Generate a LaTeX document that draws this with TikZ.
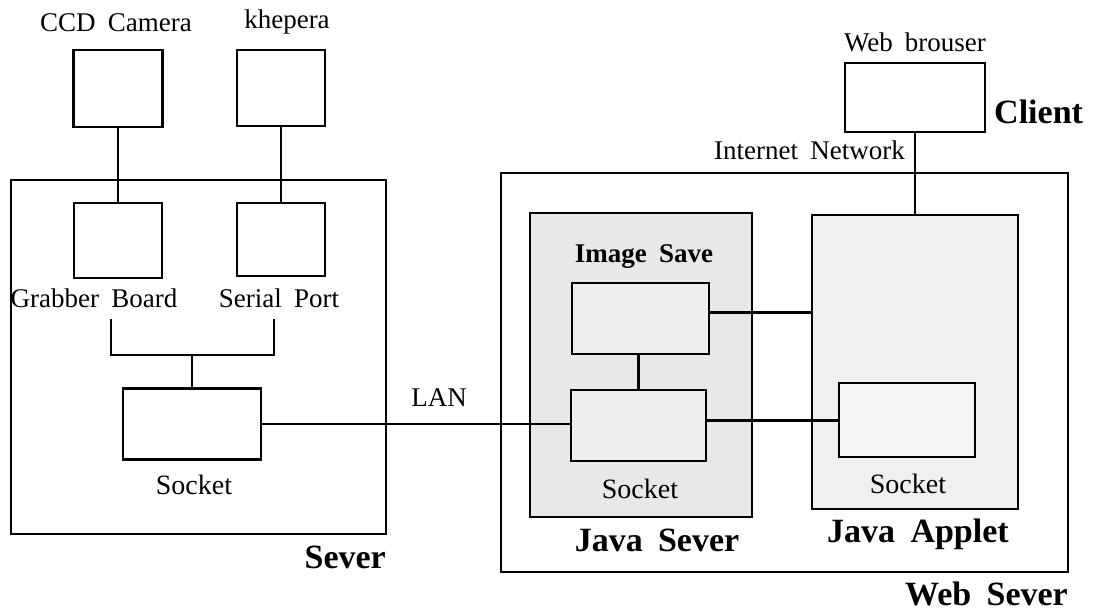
\documentclass[tikz,border=0pt]{standalone}
\usepackage{fontspec}
\setmainfont{Liberation Serif}[WordSpace=1.8]
\begin{document}
\begin{tikzpicture}[x=1pt,y=-1pt,
  box/.style={draw,line width=2.8pt,inner sep=0pt,rectangle},
  bigbox/.style={draw,line width=2.4pt,inner sep=0pt,rectangle},
  wire/.style={line width=2.8pt},
  thinwire/.style={line width=2pt},
  lbl/.style={font=\fontsize{27}{30}\selectfont,inner sep=0pt},
  blbl/.style={font=\fontsize{34}{38}\selectfont\bfseries,inner sep=0pt},
  sock/.style={font=\fontsize{28}{32}\selectfont,inner sep=0pt}
]
\useasboundingbox (0,0) rectangle (1093,612);
% big containers
\node[bigbox,minimum width=375pt,minimum height=354pt] (server) at (198.5,357) {};
\node[bigbox,minimum width=567pt,minimum height=399pt] (websrv) at (784.5,372.5) {};
\node[box,fill=black!9,minimum width=222pt,minimum height=304pt] (jsrv) at (641,365) {};
\node[box,fill=black!6,minimum width=206pt,minimum height=294pt] (japp) at (915,362) {};
% small boxes
\node[box,minimum width=89pt,minimum height=77pt] (cam) at (118,88.5) {};
\node[box,minimum width=88pt,minimum height=76pt] (khep) at (281,88) {};
\node[box,minimum width=88pt,minimum height=75pt] (grab) at (118,240.5) {};
\node[box,minimum width=88pt,minimum height=73pt] (serial) at (281,239.5) {};
\node[box,fill=white,minimum width=138pt,minimum height=71pt] (sockA) at (192,424) {};
\node[box,fill=black!7,minimum width=137pt,minimum height=71pt] (imgsave) at (640.5,318.5) {};
\node[box,fill=black!7,minimum width=135pt,minimum height=71pt] (sockB) at (638.5,425.5) {};
\node[box,fill=black!4,minimum width=136pt,minimum height=74pt] (sockC) at (907,420) {};
\node[box,minimum width=140pt,minimum height=69pt] (browser) at (915,97.5) {};
% bracket
\coordinate (bl) at (111,319);
\coordinate (br) at (274,319);
\coordinate (bm) at (192,355);
% connectors
\draw[wire] (cam.south) -- (grab.north);
\draw[wire] (khep.south) -- (serial.north);
\draw[wire] (bl) -- (bl |- bm) -- (br |- bm) -- (br);
\draw[wire] (bm) -- (bm |- sockA.north);
\draw[thinwire] (sockA.east) -- (sockA.east -| sockB.west);
\draw[wire] (imgsave.south -| sockB.north) -- (sockB.north);
\draw[wire] ([yshift=6pt]imgsave.east) -- ([yshift=6pt]imgsave.east -| japp.west);
\draw[wire] ([yshift=5pt]sockB.east) -- ([yshift=5pt]sockB.east -| sockC.west);
\draw[thinwire] (browser.south) -- (japp.north);
% labels
\node[lbl] (tcam) at (116,23) {CCD Camera};
\node[lbl] (tkhep) at (287,22) {khepera};
\node[lbl] (tgrab) at (94,298) {Grabber Board};
\node[lbl] (tser) at (279,298) {Serial Port};
\node[sock] (tsockA) at (194,485) {Socket};
\node[blbl,anchor=east] (tserver) at (386,557) {Sever};
\node[lbl] (tlan) at (439,398) {LAN};
\node[lbl,font=\fontsize{27}{30}\selectfont\bfseries] (timg) at (644,257) {Image Save};
\node[sock] (tsockB) at (640,489) {Socket};
\node[sock] (tsockC) at (908,484) {Socket};
\node[blbl] (tjsrv) at (657,540) {Java Sever};
\node[blbl] (tjapp) at (918,534) {Java Applet};
\node[blbl,anchor=east] (tweb) at (1068,594) {Web Sever};
\node[lbl] (tbrow) at (915,42) {Web brouser};
\node[blbl,anchor=west] (tclient) at (994,112) {Client};
\node[lbl,anchor=east] (tnet) at (905,150) {Internet Network};
\end{tikzpicture}
\end{document}
